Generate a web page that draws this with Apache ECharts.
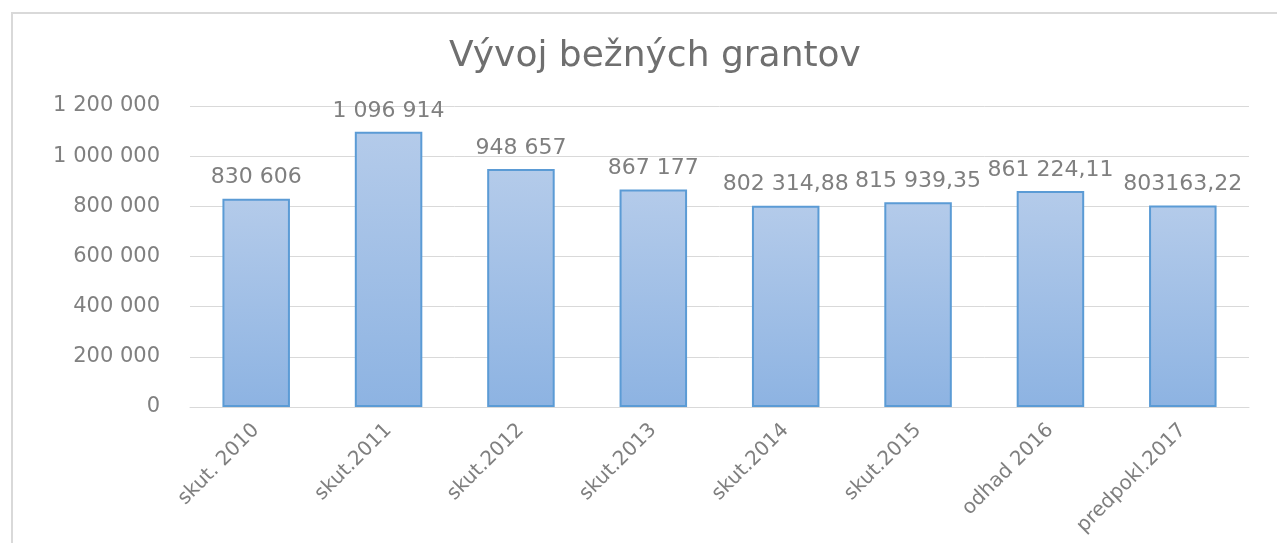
<!DOCTYPE html>
<html>
<head>
<meta charset="utf-8">
<script src="https://cdn.jsdelivr.net/npm/echarts@6/dist/echarts.min.js"></script>
<style>
html,body{margin:0;padding:0;background:#fff;}
#grant-bar{width:1277px;height:543px;}
</style>
</head>
<body>
<div id="grant-bar"></div>
<script>
// údaje grafu
var categories = ['skut. 2010','skut.2011','skut.2012','skut.2013','skut.2014','skut.2015','odhad 2016','predpokl.2017'];
var values = [830606, 1096914, 948657, 867177, 802314.88, 815939.35, 861224.11, 803163.22];
var valueLabels = ['830 606','1 096 914','948 657','867 177','802 314,88','815 939,35','861 224,11','803163,22'];
var yTicks = [0, 200000, 400000, 600000, 800000, 1000000, 1200000];

var grantChart = echarts.init(document.getElementById('grant-bar'));

function medzery(v){
	// 1200000 -> "1 200 000"
	return String(v).replace(/\B(?=(\d{3})+(?!\d))/g, ' ');
}

var option = {
	animation: false,
	title: {
		text: 'Vývoj bežných grantov',
		left: 650,
		textAlign: 'center',
		top: 34,
		textStyle: {fontFamily: 'DejaVu Sans', fontSize: 36, fontWeight: 'normal', color: '#6f6f6f'}
	},
	graphic: [{
		type: 'rect',
		shape: {x: 12, y: 13, width: 1300, height: 600},
		style: {fill: 'none', stroke: '#d9d9d9', lineWidth: 2},
		silent: true
	}],
	grid: {left: 190, right: 28, top: 106, bottom: 136, containLabel: false, outerBoundsMode: 'none'},
	xAxis: {
		type: 'category',
		data: categories,
		axisLine: {lineStyle: {color: '#d9d9d9', width: 1}},
		axisTick: {show: false},
		axisLabel: {
			interval: 0,
			rotate: 45,
			margin: 20,
			color: '#7f7f7f',
			fontFamily: 'DejaVu Sans',
			fontSize: 20
		}
	},
	yAxis: {
		type: 'value',
		min: yTicks[0],
		max: yTicks[yTicks.length - 1],
		interval: yTicks[1] - yTicks[0],
		axisLine: {show: false},
		axisTick: {show: false},
		splitLine: {lineStyle: {color: '#d9d9d9', width: 1}},
		axisLabel: {
			margin: 30,
			color: '#808080',
			fontFamily: 'DejaVu Sans',
			fontSize: 21,
			formatter: function(v){ return medzery(v); }
		}
	},
	series: [{
		name: 'Bežné granty',
		type: 'bar',
		barWidth: '51%',
		data: values,
		itemStyle: {
			color: new echarts.graphic.LinearGradient(0, 0, 0, 1, [
				{offset: 0, color: '#b4cbea'},
				{offset: 1, color: '#8db3e2'}
			]),
			borderColor: '#5b9bd5',
			borderWidth: 2
		},
		label: {
			show: true,
			position: 'top',
			distance: 10,
			color: '#7f7f7f',
			fontFamily: 'DejaVu Sans',
			fontSize: 22,
			formatter: function(p){ return valueLabels[p.dataIndex]; }
		}
	}]
};

grantChart.setOption(option);
</script>
</body>
</html>
